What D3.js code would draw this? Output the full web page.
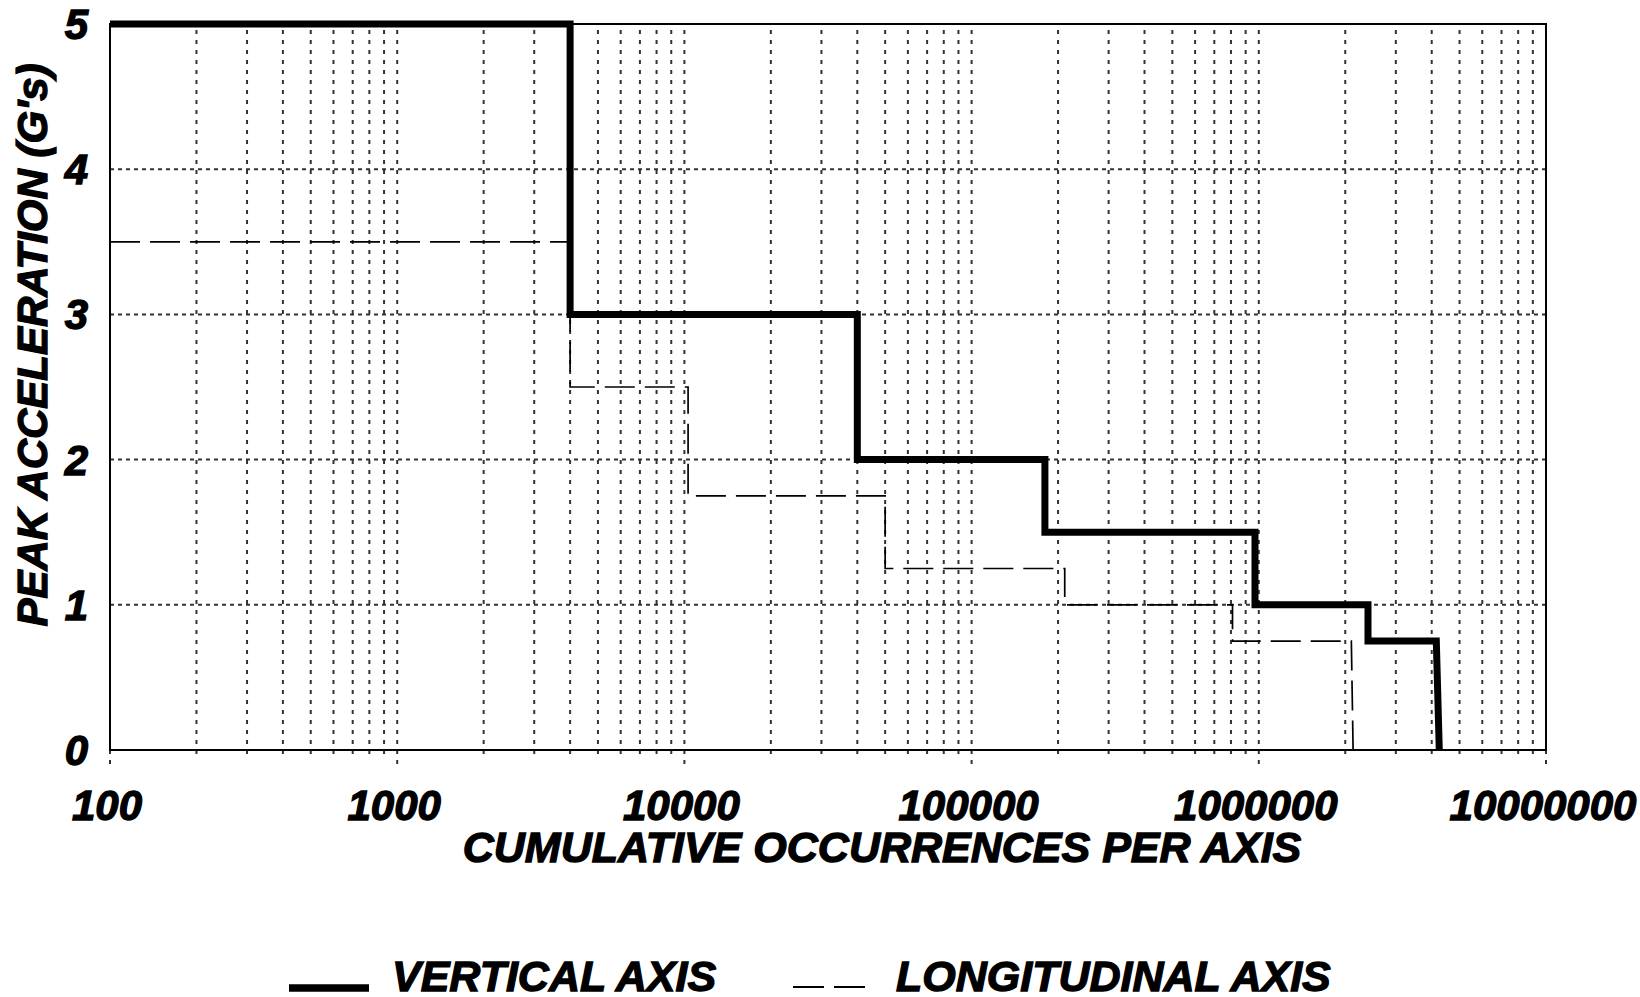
<!DOCTYPE html>
<html>
<head>
<meta charset="utf-8">
<style>
  body { margin: 0; background: #fff; }
  text { font-family: "Liberation Sans", Arial, sans-serif; font-weight: bold; font-style: italic; fill: #000; stroke: #000; stroke-width: 1.3px; }
</style>
</head>
<body>
<script src="https://d3js.org/d3.v7.min.js"></script>
<script>

// Data (x = cumulative occurrences, y = peak G's)
var verticalX = [100, 4000, 4000, 40000, 40000, 180000, 180000, 970000, 970000, 2400000, 2400000, 4150000, 4250000];
var verticalY = [5, 5, 3, 3, 2, 2, 1.5, 1.5, 1, 1, 0.75, 0.75, 0];

var longitudinalX = [100, 4000, 4000, 10300, 10300, 50000, 50000, 211000, 211000, 810000, 810000, 2100000, 2130000];
var longitudinalY = [3.5, 3.5, 2.5, 2.5, 1.75, 1.75, 1.25, 1.25, 1, 1, 0.75, 0.75, 0];

var xTicks = [100, 1000, 10000, 100000, 1000000, 10000000];
var xTickLabels = ["100", "1000", "10000", "100000", "1000000", "10000000"];
var yTicks = [0, 1, 2, 3, 4, 5];
var yTickLabels = ["0", "1", "2", "3", "4", "5"];

var seriesNames = ["VERTICAL AXIS", "LONGITUDINAL AXIS"];

// Layout
var W = 1640, H = 997;
var plotLeft = 110, plotRight = 1546, plotTop = 24, plotBottom = 750;

var x = d3.scaleLog().domain([100, 10000000]).range([plotLeft, plotRight]);
var y = d3.scaleLinear().domain([0, 5]).range([plotBottom, plotTop]);

var svg = d3.select("body").append("svg")
    .attr("width", W)
    .attr("height", H);

// vertical grid lines (every 1..9 x 10^k), they run a bit below the axis like ticks
var gridX = [];
for (var k = 2; k < 7; k++) {
    for (var m = 1; m < 10; m++) gridX.push(m * Math.pow(10, k));
}
gridX.push(10000000);

svg.append("g").selectAll("line")
    .data(gridX)
    .enter().append("line")
    .attr("x1", function(d) { return x(d); })
    .attr("x2", function(d) { return x(d); })
    .attr("y1", plotTop + 6)
    .attr("y2", function(d) { return xTicks.indexOf(d) >= 0 ? plotBottom + 15 : plotBottom + 10; })
    .attr("stroke", "#333")
    .attr("stroke-width", 2)
    .attr("stroke-dasharray", "4,6");

// horizontal grid lines
svg.append("g").selectAll("line")
    .data([1, 2, 3, 4])
    .enter().append("line")
    .attr("x1", plotLeft)
    .attr("x2", plotRight)
    .attr("y1", function(d) { return y(d); })
    .attr("y2", function(d) { return y(d); })
    .attr("stroke", "#333")
    .attr("stroke-width", 2)
    .attr("stroke-dasharray", "4,4");

// frame: solid lines on all four sides
svg.append("rect")
    .attr("x", plotLeft)
    .attr("y", plotTop)
    .attr("width", plotRight - plotLeft)
    .attr("height", plotBottom - plotTop)
    .attr("fill", "none")
    .attr("stroke", "#000")
    .attr("stroke-width", 2);

// series
var line = d3.line()
    .x(function(d) { return x(d[0]); })
    .y(function(d) { return y(d[1]); });

var longData = longitudinalX.map(function(v, i) { return [v, longitudinalY[i]]; });
var vertData = verticalX.map(function(v, i) { return [v, verticalY[i]]; });

svg.append("path")
    .datum(longData)
    .attr("d", line)
    .attr("fill", "none")
    .attr("stroke", "#000")
    .attr("stroke-width", 1.7)
    .attr("stroke-dasharray", "30,10");

svg.append("path")
    .datum(vertData)
    .attr("d", line)
    .attr("fill", "none")
    .attr("stroke", "#000")
    .attr("stroke-width", 7)
    .attr("stroke-linejoin", "miter");

// x tick labels
svg.append("g").selectAll("text")
    .data(xTicks)
    .enter().append("text")
    .attr("x", function(d) { return x(d) - 3; })
    .attr("y", 820)
    .attr("text-anchor", "middle")
    .style("font-size", "42px")
    .text(function(d, i) { return xTickLabels[i]; });

// y tick labels
svg.append("g").selectAll("text")
    .data(yTicks)
    .enter().append("text")
    .attr("x", 88)
    .attr("y", function(d) { return y(d) + 15; })
    .attr("text-anchor", "end")
    .style("font-size", "42px")
    .text(function(d, i) { return yTickLabels[i]; });

// axis titles
svg.append("text")
    .attr("x", 882)
    .attr("y", 862)
    .attr("text-anchor", "middle")
    .style("font-size", "43px")
    .text("CUMULATIVE OCCURRENCES PER AXIS");

svg.append("text")
    .attr("transform", "translate(47,345) rotate(-90)")
    .attr("text-anchor", "middle")
    .style("font-size", "42px")
    .text("PEAK ACCELERATION (G's)");

// legend
var legend = svg.append("g");

legend.append("line")
    .attr("x1", 289).attr("x2", 369)
    .attr("y1", 988).attr("y2", 988)
    .attr("stroke", "#000")
    .attr("stroke-width", 7.5);

legend.append("text")
    .attr("x", 392)
    .attr("y", 991)
    .style("font-size", "43px")
    .text(seriesNames[0]);

legend.append("line")
    .attr("x1", 793).attr("x2", 866)
    .attr("y1", 987).attr("y2", 987)
    .attr("stroke", "#000")
    .attr("stroke-width", 1.8)
    .attr("stroke-dasharray", "31,10");

legend.append("text")
    .attr("x", 896)
    .attr("y", 991)
    .style("font-size", "43px")
    .text(seriesNames[1]);

</script>
</body>
</html>
